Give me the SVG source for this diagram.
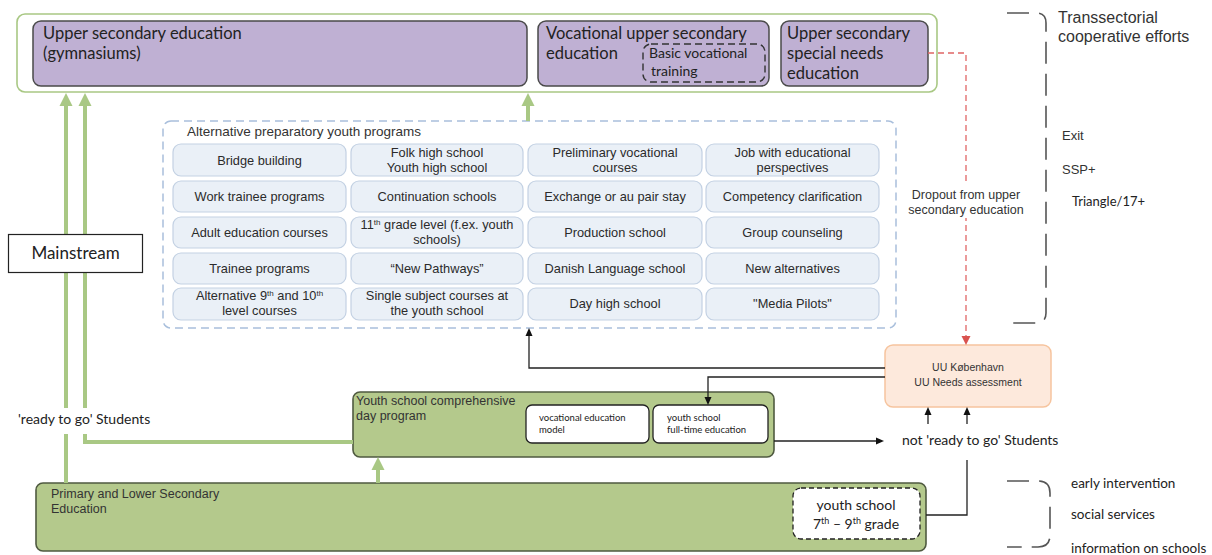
<svg xmlns="http://www.w3.org/2000/svg" width="1212" height="555" viewBox="0 0 1212 555">
<style>
.cal{font-family:Lato,"Liberation Sans",sans-serif;fill:#222}
.ar{font-family:"Liberation Sans",Arial,sans-serif;fill:#333}
.purple{fill:#bfb0d3;stroke:#4a4a4a;stroke-width:1.5}
.cell{fill:#eaf0f7;stroke:#c3d1e3;stroke-width:1.2}
.cellt{font-family:"Liberation Sans",Arial,sans-serif;font-size:12.8px;fill:#2b2b2b;text-anchor:middle}
.green{fill:#b4c98c;stroke:#4f5a40;stroke-width:1.6}
.gline{fill:none;stroke:#a9c884;stroke-width:4}
.bline{fill:none;stroke:#222;stroke-width:1.3}
.bracket{fill:none;stroke:#555;stroke-width:1.6;stroke-dasharray:22 10}
</style>
<defs>
<marker id="ga" markerUnits="userSpaceOnUse" markerWidth="14" markerHeight="14" refX="0" refY="7" orient="auto" viewBox="0 0 14 14"><path d="M0,0.5 L13,7 L0,13.5 z" fill="#a9c884"/></marker>
<marker id="ba" markerUnits="userSpaceOnUse" markerWidth="8" markerHeight="8" refX="0" refY="4" orient="auto" viewBox="0 0 8 8"><path d="M0,0.5 L8,4 L0,7.5 z" fill="#111"/></marker>
<marker id="ra" markerUnits="userSpaceOnUse" markerWidth="10" markerHeight="10" refX="0" refY="5" orient="auto" viewBox="0 0 10 10"><path d="M0,0.5 L9,5 L0,9.5 z" fill="#d9534f"/></marker>
</defs>
<rect width="1212" height="555" fill="#fff"/>

<g id="upper-container">
<rect x="17" y="14" width="920" height="78" rx="8" fill="#fff" stroke="#a9c884" stroke-width="1.6"/>
</g>

<g id="upper-secondary">
<rect class="purple" x="33" y="21" width="494" height="65" rx="8"/>
<text class="cal" x="43" y="39" font-size="16.5">Upper secondary education</text>
<text class="cal" x="43" y="59" font-size="16.5">(gymnasiums)</text>
</g>
<g id="vocational">
<rect class="purple" x="538" y="21" width="231" height="65" rx="8"/>
<text class="cal" x="546" y="39" font-size="16.5">Vocational upper secondary</text>
<text class="cal" x="546" y="59" font-size="16.5">education</text>
<rect x="643" y="44" width="122" height="38" rx="8" fill="none" stroke="#333" stroke-width="1.4" stroke-dasharray="7 4"/>
<text class="cal" x="649" y="58" font-size="14">Basic vocational</text>
<text class="cal" x="651" y="76" font-size="14">training</text>
</g>
<g id="special-needs">
<rect class="purple" x="781" y="21" width="147" height="65" rx="8"/>
<text class="cal" x="787" y="39" font-size="16.5">Upper secondary</text>
<text class="cal" x="787" y="59" font-size="16.5">special needs</text>
<text class="cal" x="787" y="79" font-size="16.5">education</text>
</g>

<g id="alternative-programs">
<rect x="163" y="121" width="733" height="207" rx="8" fill="#fff" stroke="#a9bfdc" stroke-width="1.5" stroke-dasharray="8 5"/>
<text class="ar" x="187" y="136" font-size="13.5">Alternative preparatory youth programs</text>
<rect class="cell" x="173" y="144" width="173" height="32" rx="8"/>
<rect class="cell" x="351" y="144" width="172" height="32" rx="8"/>
<rect class="cell" x="528" y="144" width="174" height="32" rx="8"/>
<rect class="cell" x="706" y="144" width="173" height="32" rx="8"/>
<rect class="cell" x="173" y="181" width="173" height="31" rx="8"/>
<rect class="cell" x="351" y="181" width="172" height="31" rx="8"/>
<rect class="cell" x="528" y="181" width="174" height="31" rx="8"/>
<rect class="cell" x="706" y="181" width="173" height="31" rx="8"/>
<rect class="cell" x="173" y="217" width="173" height="31" rx="8"/>
<rect class="cell" x="351" y="217" width="172" height="31" rx="8"/>
<rect class="cell" x="528" y="217" width="174" height="31" rx="8"/>
<rect class="cell" x="706" y="217" width="173" height="31" rx="8"/>
<rect class="cell" x="173" y="253" width="173" height="31" rx="8"/>
<rect class="cell" x="351" y="253" width="172" height="31" rx="8"/>
<rect class="cell" x="528" y="253" width="174" height="31" rx="8"/>
<rect class="cell" x="706" y="253" width="173" height="31" rx="8"/>
<rect class="cell" x="173" y="288" width="173" height="32" rx="8"/>
<rect class="cell" x="351" y="288" width="172" height="32" rx="8"/>
<rect class="cell" x="528" y="288" width="174" height="32" rx="8"/>
<rect class="cell" x="706" y="288" width="173" height="32" rx="8"/>
<text class="cellt" x="259.5" y="164.5">Bridge building</text>
<text class="cellt" x="437" y="157">Folk high school</text>
<text class="cellt" x="437" y="171.5">Youth high school</text>
<text class="cellt" x="615" y="157">Preliminary vocational</text>
<text class="cellt" x="615" y="171.5">courses</text>
<text class="cellt" x="792.5" y="157">Job with educational</text>
<text class="cellt" x="792.5" y="171.5">perspectives</text>
<text class="cellt" x="259.5" y="201">Work trainee programs</text>
<text class="cellt" x="437" y="201">Continuation schools</text>
<text class="cellt" x="615" y="201">Exchange or au pair stay</text>
<text class="cellt" x="792.5" y="201">Competency clarification</text>
<text class="cellt" x="259.5" y="237">Adult education courses</text>
<text class="cellt" x="437" y="229">11<tspan font-size="8" dy="-4">th</tspan><tspan dy="4"> grade level (f.ex. youth</tspan></text>
<text class="cellt" x="437" y="244">schools)</text>
<text class="cellt" x="615" y="237">Production school</text>
<text class="cellt" x="792.5" y="237">Group counseling</text>
<text class="cellt" x="259.5" y="273">Trainee programs</text>
<text class="cellt" x="437" y="273">“New Pathways”</text>
<text class="cellt" x="615" y="273">Danish Language school</text>
<text class="cellt" x="792.5" y="273">New alternatives</text>
<text class="cellt" x="259.5" y="300">Alternative 9<tspan font-size="8" dy="-4">th</tspan><tspan dy="4"> and 10</tspan><tspan font-size="8" dy="-4">th</tspan></text>
<text class="cellt" x="259.5" y="315">level courses</text>
<text class="cellt" x="437" y="300">Single subject courses at</text>
<text class="cellt" x="437" y="315">the youth school</text>
<text class="cellt" x="615" y="308">Day high school</text>
<text class="cellt" x="792.5" y="308">"Media Pilots"</text>
</g>

<g id="youth-school-day">
<rect class="green" x="353" y="392" width="421" height="65" rx="7"/>
<text class="ar" x="356" y="405" font-size="12.5">Youth school comprehensive</text>
<text class="ar" x="356" y="420" font-size="12.5">day program</text>
<rect x="526" y="405" width="123" height="38" rx="6" fill="#fff" stroke="#222" stroke-width="1.3"/>
<text class="cal" x="539" y="421" font-size="9.5">vocational education</text>
<text class="cal" x="539" y="433" font-size="9.5">model</text>
<rect x="653" y="405" width="115" height="38" rx="6" fill="#fff" stroke="#222" stroke-width="1.3"/>
<text class="cal" x="667" y="421" font-size="9.5">youth school</text>
<text class="cal" x="667" y="433" font-size="9.5">full-time education</text>
</g>

<g id="primary">
<rect class="green" x="36" y="483" width="890" height="68" rx="7"/>
<text class="ar" x="51" y="498" font-size="12.5">Primary and Lower Secondary</text>
<text class="ar" x="51" y="513" font-size="12.5">Education</text>
<rect x="793" y="488" width="127" height="51" rx="8" fill="#fff" stroke="#222" stroke-width="1.3" stroke-dasharray="5 3"/>
<text class="cal" x="856" y="510" font-size="14" text-anchor="middle">youth school</text>
<text class="cal" x="856" y="529" font-size="14" text-anchor="middle">7<tspan font-size="9" dy="-5">th</tspan><tspan dy="5"> – 9</tspan><tspan font-size="9" dy="-5">th</tspan><tspan dy="5"> grade</tspan></text>
</g>

<g id="uu">
<rect x="885" y="345" width="166" height="62" rx="8" fill="#fde9dc" stroke="#f6c49e" stroke-width="1.5"/>
<text class="ar" x="968" y="371" font-size="10.5" text-anchor="middle" fill="#444">UU København</text>
<text class="ar" x="968" y="386" font-size="10.5" text-anchor="middle" fill="#444">UU Needs assessment</text>
</g>

<g id="connectors">
<path class="gline" d="M66,483 V106" marker-end="url(#ga)"/>
<path class="gline" d="M353,442 H85 V106" marker-end="url(#ga)"/>
<path class="gline" d="M528,121 V106" marker-end="url(#ga)"/>
<path class="gline" d="M378,483 V470" marker-end="url(#ga)"/>
<path class="bline" d="M885,368 H529 V336" marker-end="url(#ba)"/>
<path class="bline" d="M885,377 H708 V397" marker-end="url(#ba)"/>
<path class="bline" d="M774,441 H876" marker-end="url(#ba)"/>
<path class="bline" d="M928,424 V415" marker-end="url(#ba)"/>
<path class="bline" d="M967,424 V415" marker-end="url(#ba)"/>
<path class="bline" d="M926,515 H967 V460"/>
<path d="M928,53 H966 V336" fill="none" stroke="#e06666" stroke-width="1.3" stroke-dasharray="6 4" marker-end="url(#ra)"/>
</g>

<g id="mainstream">
<rect x="8.5" y="234.5" width="134" height="38" fill="#fff" stroke="#222" stroke-width="1.2"/>
<text class="cal" x="75.5" y="259" font-size="17" text-anchor="middle">Mainstream</text>
</g>

<g id="labels">
<rect x="14" y="408" width="142" height="26" fill="#fff"/>
<text class="cal" x="18" y="424" font-size="14">'ready to go' Students</text>
<text class="cal" x="902" y="445" font-size="14">not 'ready to go' Students</text>
<rect x="898" y="184" width="136" height="34" fill="#fff"/>
<text class="ar" x="966" y="199" font-size="12.5" text-anchor="middle" fill="#444">Dropout from upper</text>
<text class="ar" x="966" y="214" font-size="12.5" text-anchor="middle" fill="#444">secondary education</text>
</g>

<g id="transsectorial">
<path class="bracket" d="M1007,13 H1036 Q1046,13 1046,23 V313 Q1046,323 1036,323 H1007"/>
<text class="ar" x="1058" y="23" font-size="16">Transsectorial</text>
<text class="ar" x="1058" y="42" font-size="16">cooperative efforts</text>
<text class="ar" x="1062" y="140" font-size="13">Exit</text>
<text class="ar" x="1062" y="174" font-size="13">SSP+</text>
<text class="cal" x="1072" y="206" font-size="13">Triangle/17+</text>
</g>

<g id="early-intervention">
<path class="bracket" d="M1007,481 H1038 Q1050,481 1050,493 V535 Q1050,547 1038,547 H1007"/>
<text class="cal" x="1071" y="488" font-size="13.5">early intervention</text>
<text class="cal" x="1071" y="519" font-size="13.5">social services</text>
<text class="cal" x="1071" y="553" font-size="13.5">information on schools</text>
</g>
</svg>
